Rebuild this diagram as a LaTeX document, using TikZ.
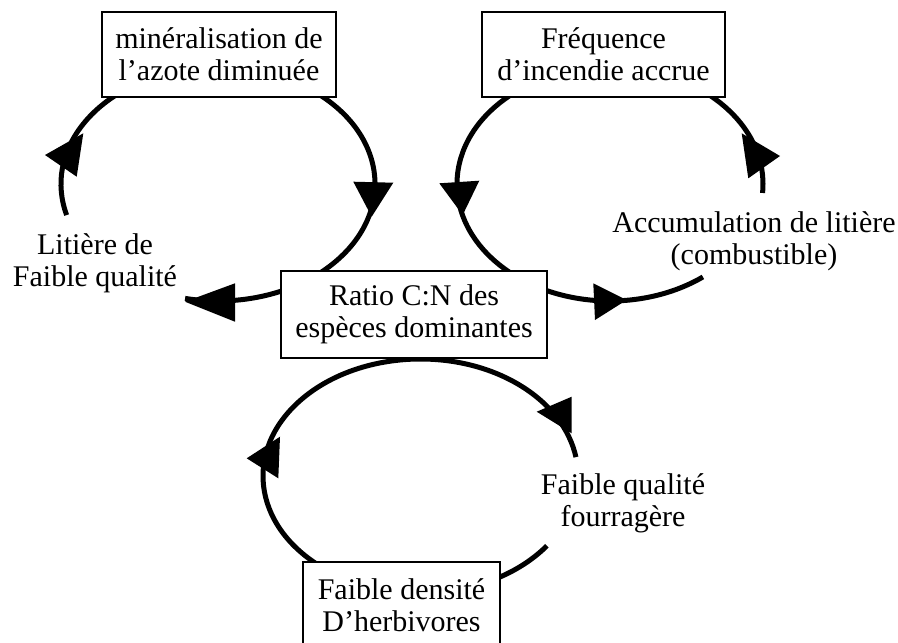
\documentclass[tikz,border=0pt]{standalone}
\usepackage{fontspec}
\setmainfont{Liberation Serif}
\usetikzlibrary{calc}
\begin{document}
\begin{tikzpicture}[x=1pt,y=-1pt,
  boxnode/.style={draw=black, line width=1.3pt, fill=white, inner sep=0pt, align=center, font=\fontsize{30}{32}\selectfont},
  labelnode/.style={inner sep=0pt, align=center, font=\fontsize{30}{32}\selectfont},
  loopline/.style={line width=5pt},
  head/.style={fill=black}]

\useasboundingbox[fill=white] (0,0) rectangle (898,643);

\coordinate (cL) at (218,184);
\coordinate (cR) at (610,184);
\coordinate (cB) at (420.5,476);

% loops
\draw[loopline] ($(cL)+(164.6:157 and 117)$) arc[start angle=164.6, end angle=462.1, x radius=157, y radius=117];
\draw[loopline] ($(cR)+(4.4:153 and 117)$) arc[start angle=4.4, end angle=-307.4, x radius=153, y radius=117];
\draw[loopline] ($(cB)+(130:157.5 and 117)$) arc[start angle=130, end angle=350.7, x radius=157.5, y radius=117];
\draw[loopline] ($(cB)+(36.6:157.5 and 117)$) arc[start angle=36.6, end angle=65, x radius=157.5, y radius=117];

% arrow heads
\fill[head] (45,155) -- (83.3,133.3) -- (76.7,176.7) -- cycle;
\fill[head] (353.3,181.7) -- (393.3,182.7) -- (371.7,216.7) -- cycle;
\fill[head] (185,301.7) -- (235,283.3) -- (235,321.7) -- cycle;
\fill[head] (439.3,183.3) -- (479.3,180.7) -- (462.7,215) -- cycle;
\fill[head] (741.7,133.3) -- (780,156) -- (748.3,178.3) -- cycle;
\fill[head] (593.3,283.3) -- (626.7,300) -- (595,320) -- cycle;
\fill[head] (246.7,458.3) -- (280,436.7) -- (278.3,478.3) -- cycle;
\fill[head] (536.7,411.7) -- (571.7,396.7) -- (571.7,433.3) -- cycle;

% boxes
\node[boxnode, minimum width=234pt, minimum height=85pt] (mineral) at (219,54.5) {minéralisation de\\l’azote diminuée};
\node[boxnode, minimum width=243pt, minimum height=85pt] (freq) at (603.5,54.5) {Fréquence\\d’incendie accrue};
\node[boxnode, minimum width=266pt, minimum height=87pt] (ratio) at (414,314.5) {Ratio C:N des\\espèces dominantes};
\node[boxnode, minimum width=197pt, minimum height=87pt] (herb) at (401.5,605.5) {Faible densité\\D’herbivores};

% labels
\node[labelnode] (litiere) at (95,263) {Litière de\\Faible qualité};
\node[labelnode] (accum) at (754,241) {Accumulation de litière\\(combustible)};
\node[labelnode] (fourr) at (623,503) {Faible qualité\\fourragère};
\end{tikzpicture}
\end{document}
